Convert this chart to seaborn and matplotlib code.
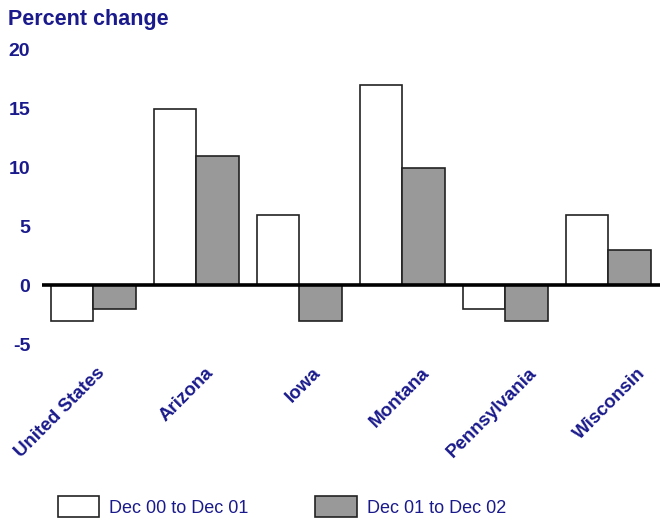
import pandas as pd
import matplotlib
matplotlib.use('Agg')
import matplotlib.pyplot as plt
import seaborn as sns
from matplotlib.transforms import ScaledTranslation

# Chart data
regions = ['United States', 'Arizona', 'Iowa', 'Montana', 'Pennsylvania', 'Wisconsin']
dec00_dec01 = [-3, 15, 6, 17, -2, 6]
dec01_dec02 = [-2, 11, -3, 10, -3, 3]
series_names = ['Dec 00 to Dec 01', 'Dec 01 to Dec 02']
y_ticks = [-5, 0, 5, 10, 15, 20]

text_blue = '#1a1a8c'

df = pd.DataFrame({
    'Region': regions * 2,
    'Change': dec00_dec01 + dec01_dec02,
    'Period': [series_names[0]] * len(regions) + [series_names[1]] * len(regions),
})

sns.set_style('white')
plt.rcParams['font.family'] = ['Liberation Sans', 'DejaVu Sans']
plt.rcParams['axes.unicode_minus'] = False

fig = plt.figure(figsize=(6.6, 5.19), dpi=100)
ax = fig.add_axes([0.0636, 0.337, 0.9364, 0.567])

sns.barplot(data=df, x='Region', y='Change', hue='Period', order=regions,
            hue_order=series_names, palette=['white', '#999999'],
            width=0.82, edgecolor='#222222', linewidth=1.2, ax=ax)

ax.axhline(0, color='black', linewidth=2.6, zorder=5)
ax.set_xlim(-0.5, len(regions) - 0.5)
ax.set_ylim(-5, 20)
ax.set_yticks(y_ticks)
ax.set_xlabel('')
ax.set_ylabel('')
for s in ax.spines.values():
    s.set_visible(False)

ax.tick_params(axis='y', length=0, pad=8.5, labelsize=14, labelcolor=text_blue)
ax.tick_params(axis='x', length=0, pad=19, labelsize=13.5, labelcolor=text_blue)
for lbl in ax.get_yticklabels():
    lbl.set_fontweight('bold')
ax.set_xticks(range(len(regions)))
ax.set_xticklabels(regions, rotation=45, ha='right', va='center',
                   rotation_mode='anchor', fontweight='bold')
# category labels in the original drift slightly right of their bar groups
for i, lbl in enumerate(ax.get_xticklabels()):
    shift = ScaledTranslation((9 + 5 * i) / 100, 0, fig.dpi_scale_trans)
    lbl.set_transform(lbl.get_transform() + shift)

fig.text(0.012, 0.963, 'Percent change', fontsize=15.5, fontweight='bold',
         color=text_blue, ha='left', va='center')

handles, labels = ax.get_legend_handles_labels()
ax.get_legend().remove()
leg = fig.legend(handles, labels, loc='center', bbox_to_anchor=(0.427, 0.024),
                 ncol=2, frameon=False, fontsize=13, handlelength=2.3,
                 handleheight=1.4, handletextpad=0.55, columnspacing=3.7)
for t in leg.get_texts():
    t.set_color(text_blue)

fig.savefig('out.png', dpi=100, facecolor='white')
